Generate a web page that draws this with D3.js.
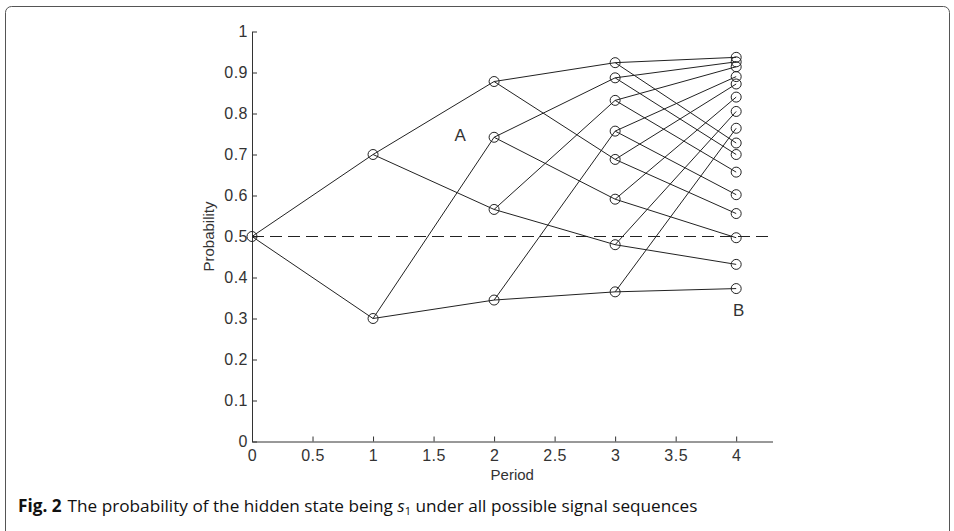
<!DOCTYPE html>
<html>
<head>
<meta charset="utf-8">
<script src="https://cdn.jsdelivr.net/npm/d3@7"></script>
<style>
  body { margin: 0; background: #fff; }
  svg { display: block; }
</style>
</head>
<body>
<div id="chart"></div>
<script>
// posterior probability at each period; node i of a level has children 2i (up) and 2i+1 (down)
const periods = [0, 1, 2, 3, 4];
const level0 = [0.5];
const level1 = [0.7, 0.3];
const level2 = [0.878, 0.566, 0.742, 0.345];
const level3 = [0.924, 0.688, 0.832, 0.480, 0.887, 0.591, 0.757, 0.365];
const level4 = [0.937, 0.728, 0.872, 0.556, 0.914, 0.657, 0.805, 0.432,
                0.926, 0.700, 0.840, 0.497, 0.890, 0.602, 0.764, 0.373];
const levels = [level0, level1, level2, level3, level4];

const xTicks = [0, 0.5, 1, 1.5, 2, 2.5, 3, 3.5, 4];
const yTicks = [0, 0.1, 0.2, 0.3, 0.4, 0.5, 0.6, 0.7, 0.8, 0.9, 1];
const refLine = 0.5;
const notes = [{ text: "A", x: 1.72, y: 0.733 }, { text: "B", x: 4.02, y: 0.306 }];

const width = 954, height = 531;

const svg = d3.select("#chart")
  .append("svg")
  .attr("width", width)
  .attr("height", height);

// card frame
svg.append("rect")
  .attr("x", 5.5).attr("y", 6.5)
  .attr("width", 944).attr("height", 560)
  .attr("rx", 6)
  .attr("fill", "none")
  .attr("stroke", "#555")
  .attr("stroke-width", 1);

const x = d3.scaleLinear().domain([0, 4.3]).range([252, 772.5]);
const y = d3.scaleLinear().domain([0, 1]).range([441.5, 31.5]);

const font = "'Liberation Sans', Arial, sans-serif";
const axisColor = "#333";

// X axis (ticks point inward, like matlab)
const gx = svg.append("g")
  .attr("transform", "translate(0," + y(0) + ")")
  .call(d3.axisBottom(x).tickValues(xTicks).tickSizeInner(-5).tickSizeOuter(0).tickPadding(8)
    .tickFormat(d3.format("")));
gx.select(".domain").attr("stroke", axisColor);
gx.selectAll(".tick line").attr("stroke", axisColor);
gx.selectAll("text").attr("font-family", font).attr("font-size", 16)
  .attr("letter-spacing", 0.5).attr("fill", "#333");

// Y axis
const gy = svg.append("g")
  .attr("transform", "translate(" + x(0) + ",0)")
  .call(d3.axisLeft(y).tickValues(yTicks).tickSizeInner(-5).tickSizeOuter(0).tickPadding(4)
    .tickFormat(d3.format("")));
gy.select(".domain").attr("stroke", axisColor);
gy.selectAll(".tick line").attr("stroke", axisColor);
gy.selectAll("text").attr("font-family", font).attr("font-size", 16)
  .attr("letter-spacing", 0.5).attr("fill", "#333");

svg.append("text")
  .attr("x", (x(0) + x(4.3)) / 2)
  .attr("y", 480)
  .attr("text-anchor", "middle")
  .attr("font-family", font).attr("font-size", 15).attr("fill", "#333")
  .text("Period");

svg.append("text")
  .attr("transform", "translate(214," + y(0.5) + ") rotate(-90)")
  .attr("text-anchor", "middle")
  .attr("font-family", font).attr("font-size", 15).attr("fill", "#333")
  .text("Probability");

// dashed reference line
svg.append("line")
  .attr("x1", x(0)).attr("x2", x(4.3))
  .attr("y1", y(refLine)).attr("y2", y(refLine))
  .attr("stroke", "#222")
  .attr("stroke-dasharray", "12,6");

// edges of the tree
const edges = [];
for (let k = 0; k < levels.length - 1; k++) {
  levels[k].forEach((p, i) => {
    edges.push({ x0: periods[k], y0: p, x1: periods[k + 1], y1: levels[k + 1][2 * i] });
    edges.push({ x0: periods[k], y0: p, x1: periods[k + 1], y1: levels[k + 1][2 * i + 1] });
  });
}
svg.append("g").selectAll("line")
  .data(edges)
  .enter()
  .append("line")
  .attr("x1", d => x(d.x0)).attr("y1", d => y(d.y0))
  .attr("x2", d => x(d.x1)).attr("y2", d => y(d.y1))
  .attr("stroke", "#222")
  .attr("stroke-width", 1);

// nodes
const nodes = [];
levels.forEach((lv, k) => lv.forEach(p => nodes.push({ t: periods[k], p: p })));
svg.append("g").selectAll("circle")
  .data(nodes)
  .enter()
  .append("circle")
  .attr("cx", d => x(d.t))
  .attr("cy", d => y(d.p))
  .attr("r", 5)
  .attr("fill", "none")
  .attr("stroke", "#222")
  .attr("stroke-width", 1);

svg.append("g").selectAll("text")
  .data(notes)
  .enter()
  .append("text")
  .attr("x", d => x(d.x))
  .attr("y", d => y(d.y))
  .attr("text-anchor", "middle")
  .attr("font-family", font).attr("font-size", 17).attr("fill", "#333")
  .text(d => d.text);

// caption
const cap = svg.append("text")
  .attr("x", 18).attr("y", 512)
  .attr("font-family", "'Open Sans', 'Noto Sans', sans-serif")
  .attr("font-size", 17.2).attr("fill", "#111");
cap.append("tspan").attr("font-weight", "bold").text("Fig. 2");
cap.append("tspan").attr("dx", 6).text("The probability of the hidden state being ");
cap.append("tspan").attr("font-style", "italic").text("s");
cap.append("tspan").attr("font-size", 11).attr("dy", 3).text("1");
cap.append("tspan").attr("dy", -3).text(" under all possible signal sequences");
</script>
</body>
</html>
